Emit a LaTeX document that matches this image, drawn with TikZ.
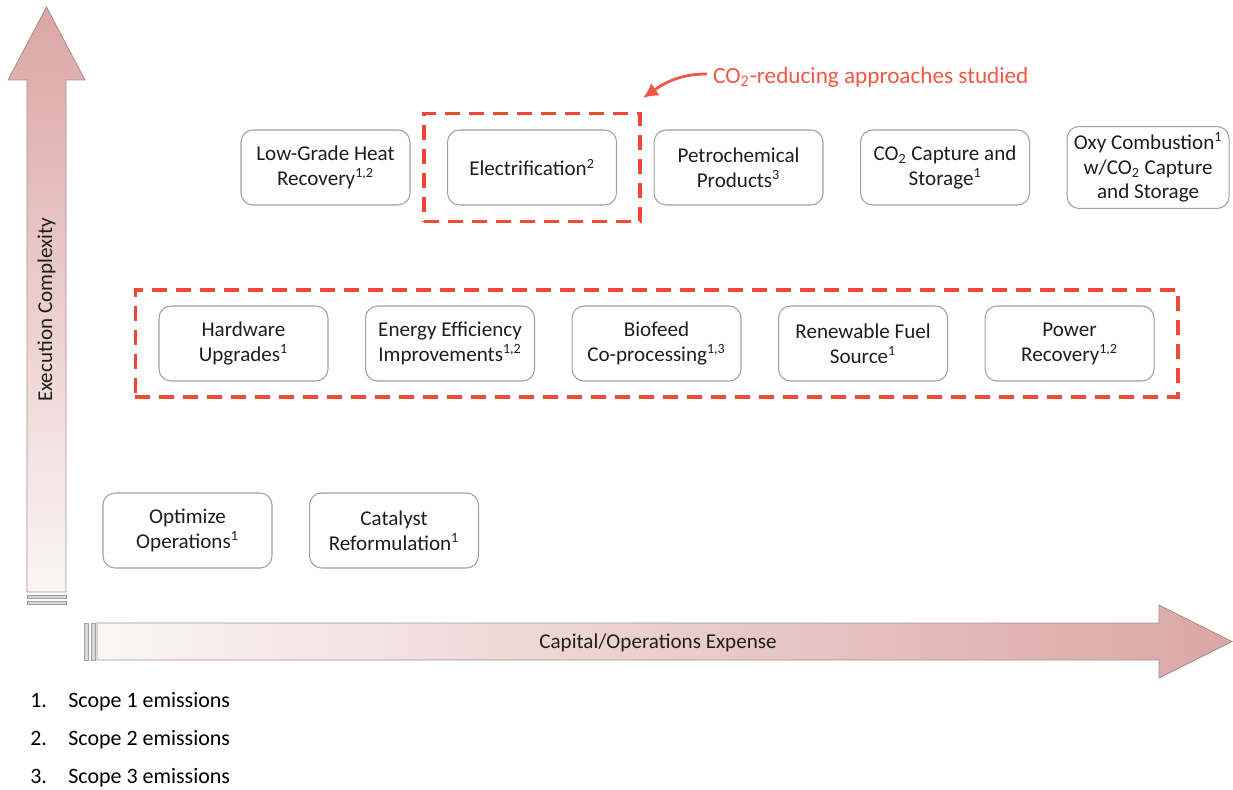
\documentclass[tikz,border=0pt]{standalone}
\usepackage{fontspec}
\setmainfont{Carlito}
\usepackage{xcolor}
\usetikzlibrary{arrows.meta, positioning, fit, calc}
\definecolor{arrowPink}{RGB}{219,166,163}
\definecolor{arrowPale}{RGB}{250,246,245}
\definecolor{arrowEdge}{RGB}{165,145,145}
\definecolor{frameRed}{RGB}{239,72,54}
\definecolor{noteRed}{RGB}{240,88,68}
\definecolor{boxGray}{RGB}{160,160,160}
\definecolor{stripeGray}{RGB}{216,214,214}
\definecolor{darkText}{RGB}{30,30,30}
\tikzset{
    approachbox/.style={
        rectangle,
        draw=boxGray,
        line width=0.6pt,
        rounded corners=0.24cm,
        align=center,
        fill=white,
        minimum width=3.38cm,
        minimum height=1.5cm,
        text=darkText,
        font=\fontsize{12}{14.2}\selectfont
    },
    studyframe/.style={draw=frameRed, line width=2.2pt, dash pattern=on 0.3cm off 0.18cm},
    notearrow/.style={-{Latex[length=3mm, width=3mm]}, line width=1.6pt, draw=noteRed},
    axislabel/.style={text=darkText, font=\fontsize{12}{14}\selectfont},
    legendtext/.style={anchor=base west, inner sep=0pt, text=black, font=\fontsize{12.5}{15}\selectfont},
    stripe/.style={draw=boxGray, fill=stripeGray, line width=0.4pt}
}
\begin{document}
\begin{tikzpicture}[x=0.02cm, y=-0.02cm, node distance=0.73cm]
\useasboundingbox (0,0) rectangle (1233,790);
% axes
\shade[top color=arrowPink, bottom color=arrowPale, draw=arrowEdge, line width=0.5pt]
    (27,592) -- (27,80) -- (8,80) -- (46.5,7) -- (85,80) -- (66,80) -- (66,592) -- cycle;
\draw[stripe] (27,595) rectangle (66,598);
\draw[stripe] (27,601) rectangle (66,604);
\shade[left color=arrowPale, right color=arrowPink, draw=arrowEdge, line width=0.5pt]
    (97,623) -- (1159,623) -- (1159,605) -- (1232,641.5) -- (1159,678) -- (1159,660) -- (97,660) -- cycle;
\draw[stripe] (84,623) rectangle (88,660);
\draw[stripe] (91,623) rectangle (95,660);
\node[axislabel, rotate=90] (ylab) at (46.5,310) {Execution Complexity};
\node[axislabel] (xlab) at (658,643) {Capital/Operations Expense};

% top row
\node[approachbox] (heat) at (325.5,167.5) {Low-Grade Heat\\Recovery\textsuperscript{1,2}};
\node[approachbox, right=of heat] (elec) {Electrification\textsuperscript{2}};
\node[approachbox, right=of elec] (petro) {Petrochemical\\Products\textsuperscript{3}};
\node[approachbox, right=of petro] (ccs) {CO\textsubscript{2} Capture and\\Storage\textsuperscript{1}};
\node[approachbox, right=of ccs, minimum width=3.24cm] (oxy) {Oxy Combustion\textsuperscript{1}\\w/CO\textsubscript{2} Capture\\and Storage};

% middle row
\node[approachbox] (hw) at (243.5,343.5) {Hardware\\Upgrades\textsuperscript{1}};
\node[approachbox, right=of hw] (eff) {Energy Efficiency\\Improvements\textsuperscript{1,2}};
\node[approachbox, right=of eff] (bio) {Biofeed\\Co-processing\textsuperscript{1,3}};
\node[approachbox, right=of bio] (fuel) {Renewable Fuel\\Source\textsuperscript{1}};
\node[approachbox, right=of fuel] (power) {Power\\Recovery\textsuperscript{1,2}};

% bottom row
\node[approachbox] (ops) at (187.5,530.5) {Optimize\\Operations\textsuperscript{1}};
\node[approachbox, right=of ops] (cat) {Catalyst\\Reformulation\textsuperscript{1}};

% studied approaches
\node[studyframe, fit=(elec), inner xsep=0.46cm, inner ysep=0.32cm] (elecframe) {};
\node[studyframe, fit=(hw) (power), inner xsep=0.46cm, inner ysep=0.31cm] (rowframe) {};
\node[text=noteRed, font=\fontsize{13.2}{15}\selectfont, anchor=west] (note) at (707,77) {CO\textsubscript{2}-reducing approaches studied};
\coordinate (notetip) at (643,98);
\draw[notearrow] ([yshift=0.06cm]note.west) to[out=180, in=35] (notetip);

% legend
\foreach \i/\y in {1/707, 2/745, 3/783} {
    \node[legendtext] (num\i) at (30,\y) {\i.};
    \node[legendtext] (scope\i) at (68,\y) {Scope \i\ emissions};
}
\end{tikzpicture}
\end{document}
